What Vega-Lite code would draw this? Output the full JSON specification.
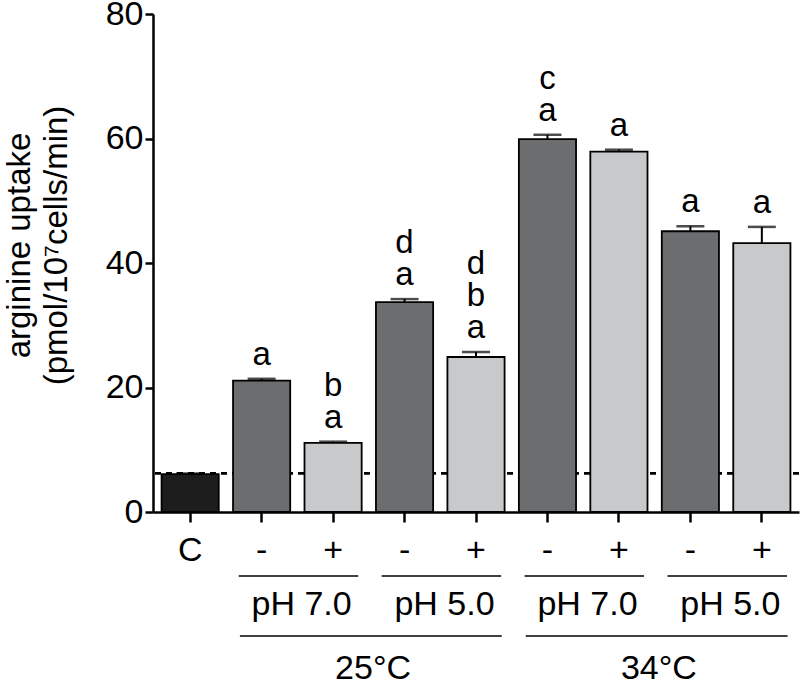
{
  "$schema": "https://vega.github.io/schema/vega-lite/v6.json",
  "width": 646,
  "height": 498,
  "autosize": {"type": "none"},
  "padding": {"left": 153, "top": 14, "right": 1, "bottom": 173},
  "background": "white",
  "config": {
    "view": {"stroke": null},
    "font": "Liberation Sans",
    "axis": {"grid": false, "domainColor": "black", "tickColor": "black", "labelColor": "black", "titleColor": "black", "labelFont": "Liberation Sans", "titleFont": "Liberation Sans", "titleFontWeight": "normal"}
  },
  "datasets": {
    "bars": [
      {"id": "C", "kind": "ctrl", "value": 6.1, "hi": 6.2, "s1": "", "s2": "", "s3": ""},
      {"id": "1-", "kind": "minus", "value": 21.1, "hi": 21.4, "s1": "a", "s2": "", "s3": ""},
      {"id": "2+", "kind": "plus", "value": 11.1, "hi": 11.3, "s1": "a", "s2": "b", "s3": ""},
      {"id": "3-", "kind": "minus", "value": 33.7, "hi": 34.2, "s1": "a", "s2": "d", "s3": ""},
      {"id": "4+", "kind": "plus", "value": 24.9, "hi": 25.7, "s1": "a", "s2": "b", "s3": "d"},
      {"id": "5-", "kind": "minus", "value": 59.9, "hi": 60.6, "s1": "a", "s2": "c", "s3": ""},
      {"id": "6+", "kind": "plus", "value": 57.9, "hi": 58.2, "s1": "a", "s2": "", "s3": ""},
      {"id": "7-", "kind": "minus", "value": 45.1, "hi": 45.9, "s1": "a", "s2": "", "s3": ""},
      {"id": "8+", "kind": "plus", "value": 43.2, "hi": 45.8, "s1": "a", "s2": "", "s3": ""}
    ],
    "ph": [
      {"from": "1-", "to": "2+", "label": "pH 7.0"},
      {"from": "3-", "to": "4+", "label": "pH 5.0"},
      {"from": "5-", "to": "6+", "label": "pH 7.0"},
      {"from": "7-", "to": "8+", "label": "pH 5.0"}
    ],
    "temp": [
      {"from": "1-", "to": "4+", "mid": "2+", "label": "25°C"},
      {"from": "5-", "to": "8+", "mid": "6+", "label": "34°C"}
    ],
    "baseline": [{"level": 6.2}]
  },
  "layer": [
    {
      "data": {"name": "baseline"},
      "mark": {"type": "rule", "strokeDash": [6, 5], "strokeWidth": 2.8, "color": "black"},
      "encoding": {
        "y": {"field": "level", "type": "quantitative", "scale": {"domain": [0, 80], "nice": false}}
      }
    },
    {
      "data": {"name": "bars"},
      "mark": {"type": "bar", "stroke": "black", "strokeWidth": 1.8},
      "encoding": {
        "x": {
          "field": "id", "type": "nominal", "sort": null,
          "scale": {"domain": ["C", "1-", "2+", "3-", "4+", "5-", "6+", "7-", "8+"], "paddingInner": 0.2, "paddingOuter": 0.12},
          "axis": {
            "title": null, "labelAngle": 0, "labelFontSize": 34, "labelPadding": 11,
            "tickSize": 10, "tickWidth": 2.5, "domainWidth": 2.5,
            "labelExpr": "datum.value == 'C' ? 'C' : substring(datum.value, 1)"
          }
        },
        "y": {
          "field": "value", "type": "quantitative",
          "scale": {"domain": [0, 80], "nice": false},
          "axis": {
            "values": [0, 20, 40, 60, 80], "labelFontSize": 34, "labelPadding": 2,
            "tickSize": 8, "tickWidth": 2.5, "domainWidth": 2.5,
            "title": ["arginine uptake", "(pmol/10⁷cells/min)"],
            "titleFontSize": 33, "titleLineHeight": 37, "titleAngle": -90,
            "titleBaseline": "top", "titleAlign": "center", "titleX": -150, "titleY": 231
          }
        },
        "color": {
          "field": "kind", "type": "nominal", "legend": null,
          "scale": {"domain": ["ctrl", "minus", "plus"], "range": ["#1d1d1e", "#6c6d6f", "#c8c9cb"]}
        }
      }
    },
    {
      "data": {"name": "bars"},
      "mark": {"type": "rule", "strokeWidth": 2, "color": "black"},
      "encoding": {
        "x": {"field": "id", "type": "nominal", "sort": null},
        "y": {"field": "value", "type": "quantitative"},
        "y2": {"field": "hi"}
      }
    },
    {
      "data": {"name": "bars"},
      "mark": {"type": "tick", "size": 28, "thickness": 2.5, "color": "black"},
      "encoding": {
        "x": {"field": "id", "type": "nominal", "sort": null},
        "y": {"field": "hi", "type": "quantitative"}
      }
    },
    {
      "data": {"name": "bars"},
      "mark": {"type": "text", "fontSize": 33, "baseline": "alphabetic", "dy": -14, "color": "black"},
      "encoding": {
        "x": {"field": "id", "type": "nominal", "sort": null},
        "y": {"field": "hi", "type": "quantitative"},
        "text": {"field": "s1", "type": "nominal"}
      }
    },
    {
      "data": {"name": "bars"},
      "mark": {"type": "text", "fontSize": 33, "baseline": "alphabetic", "dy": -46, "color": "black"},
      "encoding": {
        "x": {"field": "id", "type": "nominal", "sort": null},
        "y": {"field": "hi", "type": "quantitative"},
        "text": {"field": "s2", "type": "nominal"}
      }
    },
    {
      "data": {"name": "bars"},
      "mark": {"type": "text", "fontSize": 33, "baseline": "alphabetic", "dy": -78, "color": "black"},
      "encoding": {
        "x": {"field": "id", "type": "nominal", "sort": null},
        "y": {"field": "hi", "type": "quantitative"},
        "text": {"field": "s3", "type": "nominal"}
      }
    },
    {
      "data": {"name": "ph"},
      "mark": {"type": "rule", "strokeWidth": 1.5, "color": "black"},
      "encoding": {
        "x": {"field": "from", "type": "nominal", "bandPosition": 0.1},
        "x2": {"field": "to", "bandPosition": 0.94},
        "y": {"datum": -10.3, "type": "quantitative"}
      }
    },
    {
      "data": {"name": "ph"},
      "mark": {"type": "text", "fontSize": 34, "baseline": "middle", "color": "black"},
      "encoding": {
        "x": {"field": "from", "type": "nominal", "bandPosition": 1.2},
        "y": {"datum": -14.9, "type": "quantitative"},
        "text": {"field": "label", "type": "nominal"}
      }
    },
    {
      "data": {"name": "temp"},
      "mark": {"type": "rule", "strokeWidth": 1.5, "color": "black"},
      "encoding": {
        "x": {"field": "from", "type": "nominal", "bandPosition": 0.12},
        "x2": {"field": "to", "bandPosition": 0.95},
        "y": {"datum": -19.9, "type": "quantitative"}
      }
    },
    {
      "data": {"name": "temp"},
      "mark": {"type": "text", "fontSize": 34, "baseline": "middle", "color": "black"},
      "encoding": {
        "x": {"field": "mid", "type": "nominal", "bandPosition": 1.2},
        "y": {"datum": -25.3, "type": "quantitative"},
        "text": {"field": "label", "type": "nominal"}
      }
    }
  ]
}
